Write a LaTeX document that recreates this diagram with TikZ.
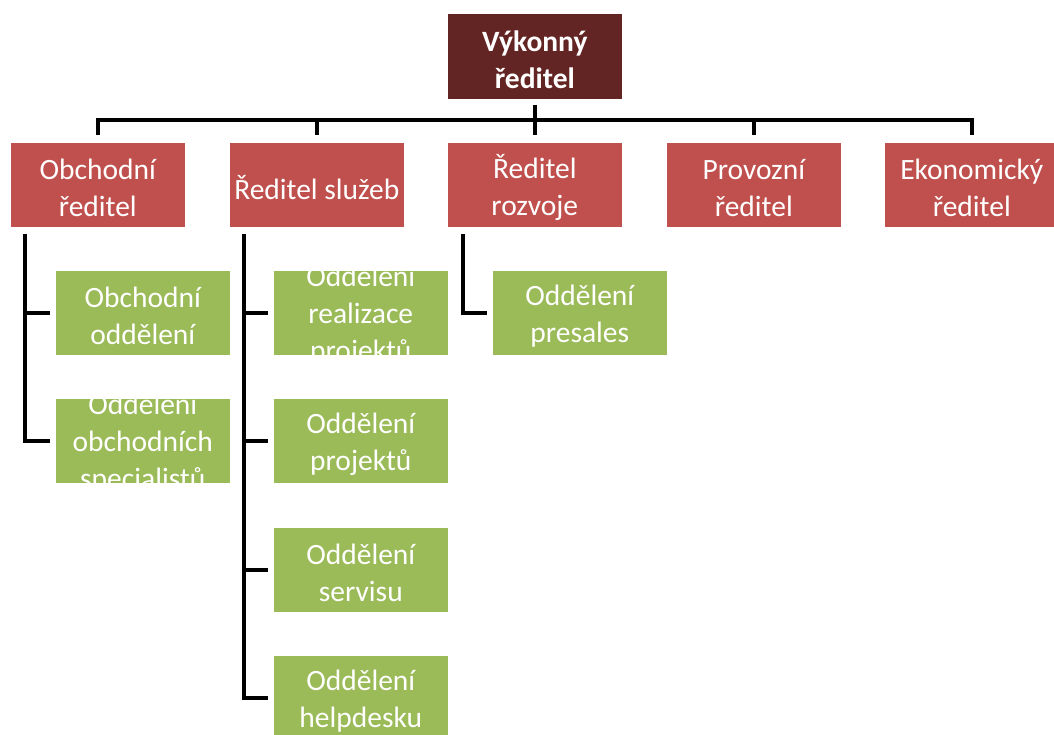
\documentclass[tikz,border=0pt]{standalone}
\usepackage{fontspec}
\setmainfont{Carlito}
\definecolor{headc}{HTML}{632523}
\definecolor{redc}{HTML}{C0504D}
\definecolor{greenc}{HTML}{9BBB59}
\tikzset{
  conn/.style={draw=black, line width=4.5pt},
  boxlabel/.style={anchor=center, draw=none, fill=none, text=white, align=center,
    inner sep=0pt, minimum width=0pt, minimum height=0pt,
    font=\fontsize{29.5}{37}\selectfont},
  orgbox/.style={rectangle, anchor=north west, minimum width=175pt, minimum height=85pt,
    inner sep=0pt, draw=white, line width=0.6pt,
    path picture={\node[boxlabel] at ([yshift=-3pt]path picture bounding box.center) {#1};}},
  headbox/.style={orgbox={#1}, fill=headc, minimum height=86pt},
  mgrbox/.style={orgbox={#1}, fill=redc},
  deptbox/.style={orgbox={#1}, fill=greenc},
}
\begin{document}
\begin{tikzpicture}[x=1pt,y=-1pt]
\useasboundingbox (0,0) rectangle (1054,734);
\clip (0,0) rectangle (1054,734);
% top
\node[headbox={\bfseries Výkonný\\\bfseries ředitel}] (top) at (447,13) {};
% managers
\node[mgrbox={Obchodní\\ředitel}] (ob) at (10,142) {};
\node[mgrbox={Ředitel služeb}] (sl) at (229,142) {};
\node[mgrbox={Ředitel\\rozvoje}] (rz) at (447,142) {};
\node[mgrbox={Provozní\\ředitel}] (pr) at (666,142) {};
\node[mgrbox={Ekonomický\\ředitel}] (ek) at (884,142) {};
% departments
\node[deptbox={Obchodní\\oddělení}] (ob1) at (55,270) {};
\node[deptbox={Oddělení\\obchodních\\specialistů}] (ob2) at (55,398) {};
\node[deptbox={Oddělení\\realizace\\projektů}] (sl1) at (273,270) {};
\node[deptbox={Oddělení\\projektů}] (sl2) at (273,398) {};
\node[deptbox={Oddělení\\servisu}] (sl3) at (273,527) {};
\node[deptbox={Oddělení\\helpdesku}] (sl4) at (273,655) {};
\node[deptbox={Oddělení\\presales}] (rz1) at (492,270) {};
% connectors top -> managers
\draw[conn] ([yshift=-5pt]top.south) -- ([yshift=7pt]rz.north);
\draw[conn] ([yshift=7pt]ob.north) -- ([yshift=22pt]ob.north) -| ([yshift=7pt]ek.north);
\draw[conn] ([yshift=22pt]sl.north) -- ([yshift=7pt]sl.north);
\draw[conn] ([yshift=22pt]pr.north) -- ([yshift=7pt]pr.north);
% managers -> departments
\coordinate (obv) at ([xshift=15pt,yshift=-6pt]ob.south west);
\coordinate (slv) at ([xshift=15pt,yshift=-6pt]sl.south west);
\coordinate (rzv) at ([xshift=16pt,yshift=-6pt]rz.south west);
\draw[conn] (obv) |- ([xshift=-5pt]ob2.west);
\draw[conn] (obv |- ob1.west) -- ([xshift=-5pt]ob1.west);
\draw[conn] (slv) |- ([xshift=-5pt]sl4.west);
\draw[conn] (slv |- sl1.west) -- ([xshift=-5pt]sl1.west);
\draw[conn] (slv |- sl2.west) -- ([xshift=-5pt]sl2.west);
\draw[conn] (slv |- sl3.west) -- ([xshift=-5pt]sl3.west);
\draw[conn] (rzv) |- ([xshift=-5pt]rz1.west);
\end{tikzpicture}
\end{document}
